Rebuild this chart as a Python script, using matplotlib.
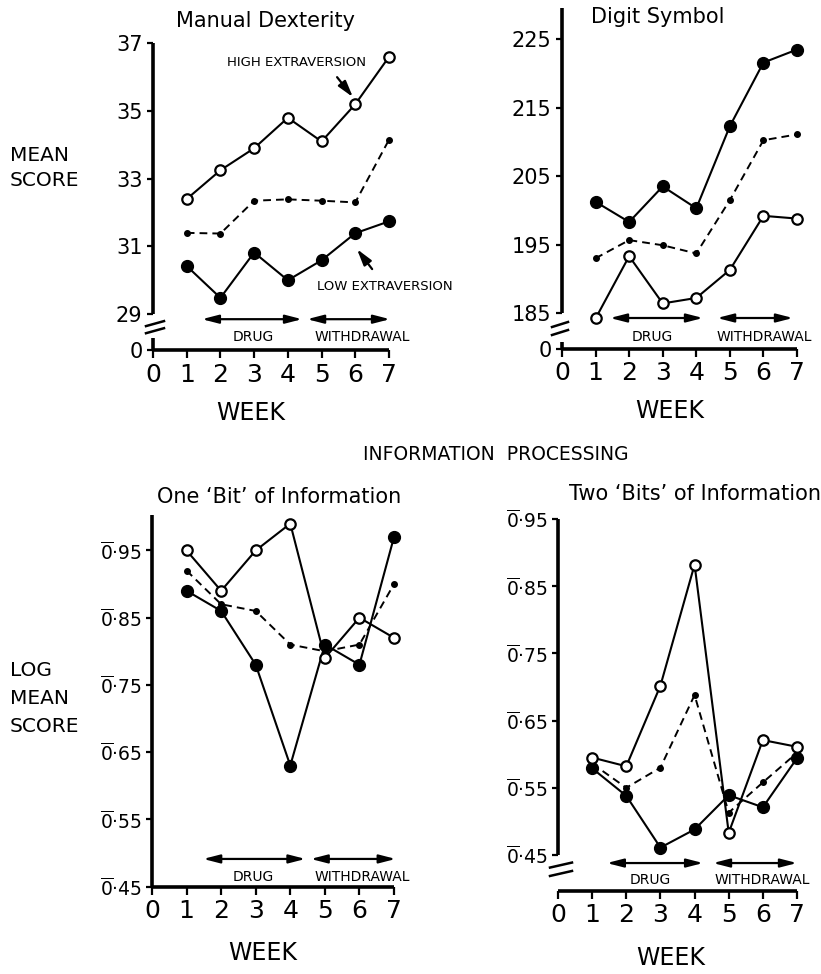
import matplotlib
matplotlib.use('Agg')
import matplotlib.pyplot as plt

# Weekly means for the two extraversion groups and the overall mean
weeks = [1, 2, 3, 4, 5, 6, 7]

md_high = [32.4, 33.25, 33.9, 34.8, 34.1, 35.2, 36.6]
md_mean = [31.4, 31.38, 32.35, 32.39, 32.35, 32.3, 34.15]
md_low = [30.42, 29.48, 30.82, 30.0, 30.59, 31.39, 31.74]

ds_high = [184.2, 193.3, 186.4, 187.2, 191.3, 199.2, 198.8]
ds_mean = [193.0, 195.65, 194.9, 193.7, 201.5, 210.25, 211.1]
ds_low = [201.25, 198.3, 203.5, 200.3, 212.3, 221.6, 223.5]

ob_high = [0.95, 0.89, 0.95, 0.99, 0.79, 0.85, 0.82]
ob_mean = [0.92, 0.87, 0.86, 0.81, 0.80, 0.81, 0.90]
ob_low = [0.89, 0.86, 0.78, 0.63, 0.81, 0.78, 0.97]

tb_high = [0.595, 0.582, 0.702, 0.882, 0.483, 0.621, 0.611]
tb_mean = [0.586, 0.55, 0.58, 0.688, 0.513, 0.558, 0.602]
tb_low = [0.579, 0.538, 0.461, 0.488, 0.539, 0.521, 0.594]

md_ticks = [29, 31, 33, 35, 37]
ds_ticks = [185, 195, 205, 215, 225]
log_ticks = [0.45, 0.55, 0.65, 0.75, 0.85, 0.95]
week_ticks = [0, 1, 2, 3, 4, 5, 6, 7]

plt.rcParams['font.family'] = ['DejaVu Sans']
plt.rcParams['mathtext.fontset'] = 'dejavusans'

W, H = 821, 974
fig = plt.figure(figsize=(W / 100, H / 100), dpi=100)
fig.patch.set_facecolor('white')


def add_axes_px(left, right, top, bottom):
    return fig.add_axes([left / W, 1 - bottom / H, (right - left) / W, (bottom - top) / H])


def log_label(v):
    # bar notation for the log characteristic
    return r'$\overline{0}$' + '\u00b7' + f'{v:.2f}'[2:]


def style_axes(ax, ylim, ticks, labels, spine_low, ysize=15):
    ax.set_xlim(0, 7)
    ax.set_ylim(*ylim)
    ax.patch.set_alpha(0)
    for side in ('top', 'right'):
        ax.spines[side].set_visible(False)
    for side in ('left', 'bottom'):
        ax.spines[side].set_linewidth(2.6)
        ax.spines[side].set_capstyle('butt')
    ax.spines['left'].set_bounds(spine_low, ylim[1])
    ax.set_xticks(week_ticks)
    ax.set_xticklabels([str(w) for w in week_ticks], fontsize=18)
    ax.set_yticks(ticks)
    ax.set_yticklabels(labels, fontsize=ysize)
    ax.tick_params(axis='x', length=6, width=1.6, pad=3)
    ax.tick_params(axis='y', length=4.5, width=1.6, pad=3)


def plot_groups(ax, high, mean, low):
    ax.plot(weeks, mean, color='k', lw=1.4, dashes=(4, 2.6), marker='o', ms=4,
            clip_on=False, zorder=2)
    ax.plot(weeks, low, color='k', lw=1.5, marker='o', ms=8.5, mfc='k',
            clip_on=False, zorder=3)
    ax.plot(weeks, high, color='k', lw=1.5, marker='o', ms=7.5, mfc='white',
            mec='k', mew=1.6, clip_on=False, zorder=4)


def draw_break(ax, centres, x_off):
    # two slanted strokes across the broken y axis
    x0, _ = ax.transData.transform((0, ax.get_ylim()[0]))
    inv = ax.transAxes.inverted()
    for yc in centres:
        _, y0 = ax.transData.transform((0, yc))
        p0 = inv.transform((x0 + x_off[0], y0 - 2.5))
        p1 = inv.transform((x0 + x_off[1], y0 + 2.5))
        ax.plot([p0[0], p1[0]], [p0[1], p1[1]], color='k', lw=1.8,
                transform=ax.transAxes, clip_on=False)


def phase_arrows(ax, y_arrow, y_text, drug, withdrawal, x_drug, x_with):
    style = dict(arrowstyle='<|-|>,head_length=0.7,head_width=0.18',
                 color='k', lw=1.6, shrinkA=0, shrinkB=0, mutation_scale=14)
    ax.annotate('', xy=(drug[1], y_arrow), xytext=(drug[0], y_arrow),
                arrowprops=style, annotation_clip=False)
    ax.annotate('', xy=(withdrawal[1], y_arrow), xytext=(withdrawal[0], y_arrow),
                arrowprops=style, annotation_clip=False)
    ax.text(x_drug, y_text, 'DRUG', ha='center', va='center', fontsize=10)
    ax.text(x_with, y_text, 'WITHDRAWAL', ha='center', va='center', fontsize=10)


def week_label(ax, x, offset):
    ax.annotate('WEEK', xy=(x, 0), xycoords=ax.get_xaxis_transform(),
                xytext=(0, offset), textcoords='offset points',
                ha='center', va='center', fontsize=17)


# Manual Dexterity
ax1 = add_axes_px(153, 389, 43.3, 350)
md_zero = 27.94
style_axes(ax1, (md_zero, 37), [md_zero] + md_ticks,
           ['0'] + [str(t) for t in md_ticks], 29)
ax1.plot([0, 0], [md_zero, 28.3], color='k', lw=2.6, solid_capstyle='butt', clip_on=False)
draw_break(ax1, [28.72, 28.51], (-7, 11))
plot_groups(ax1, md_high, md_mean, md_low)
phase_arrows(ax1, 28.85, 28.32, (1.45, 4.42), (4.57, 7.03), 2.97, 6.21)
week_label(ax1, 2.9, -45)
ax1.text(3.35, 37.66, 'Manual Dexterity', ha='center', va='center', fontsize=15)
arrow_style = dict(arrowstyle='-|>,head_length=0.7,head_width=0.2', color='k', lw=1.6,
                   shrinkA=0, shrinkB=0, mutation_scale=14)
ax1.annotate('', xy=(5.93, 35.41), xytext=(5.46, 36.0), arrowprops=arrow_style)
ax1.text(4.27, 36.42, 'HIGH EXTRAVERSION', ha='center', va='center', fontsize=9.5)
ax1.annotate('', xy=(6.05, 30.92), xytext=(6.5, 30.33), arrowprops=arrow_style)
ax1.text(6.88, 29.83, 'LOW EXTRAVERSION', ha='center', va='center', fontsize=9.5)

# Digit Symbol
ax2 = add_axes_px(562, 797, 8.3, 349)
ds_zero = 179.74
style_axes(ax2, (ds_zero, 229.53), [ds_zero] + ds_ticks,
           ['0'] + [str(t) for t in ds_ticks], 185)
ax2.plot([0, 0], [ds_zero, 180.76], color='k', lw=2.6, solid_capstyle='butt', clip_on=False)
draw_break(ax2, [183.32, 182.15], (-10, 6))
plot_groups(ax2, ds_high, ds_mean, ds_low)
phase_arrows(ax2, 184.27, 181.54, (1.43, 4.2), (4.62, 6.88), 2.7, 6.02)
week_label(ax2, 3.2, -45)
ax2.text(2.86, 228.3, 'Digit Symbol', ha='center', va='center', fontsize=15)

# One 'Bit' of Information
ax3 = add_axes_px(152, 394, 515, 886.5)
style_axes(ax3, (0.45, 1.0028), log_ticks, [log_label(t) for t in log_ticks], 0.45, 13.5)
plot_groups(ax3, ob_high, ob_mean, ob_low)
phase_arrows(ax3, 0.491, 0.4641, (1.48, 4.44), (4.59, 7.05), 2.94, 6.07)
week_label(ax3, 3.2, -48)
ax3.text(3.67, 1.03, 'One \u2018Bit\u2019 of Information', ha='center', va='center', fontsize=15)

# Two 'Bits' of Information
ax4 = add_axes_px(558, 797, 519, 891)
tb_zero = 0.3964
style_axes(ax4, (tb_zero, 0.95), log_ticks, [log_label(t) for t in log_ticks], 0.45, 13.5)
draw_break(ax4, [0.435, 0.4225], (-8, 14))
plot_groups(ax4, tb_high, tb_mean, tb_low)
phase_arrows(ax4, 0.438, 0.4128, (1.43, 4.25), (4.54, 7.0), 2.69, 5.99)
week_label(ax4, 3.3, -48)
ax4.text(4.02, 0.987, 'Two \u2018Bits\u2019 of Information', ha='center', va='center', fontsize=15)

# Shared labels
fig.text(10 / W, 1 - 168 / H, 'MEAN\nSCORE', ha='left', va='center', fontsize=14.5,
         linespacing=1.4)
fig.text(10 / W, 1 - 698 / H, 'LOG\nMEAN\nSCORE', ha='left', va='center', fontsize=14.5,
         linespacing=1.6)
fig.text(496 / W, 1 - 454 / H, 'INFORMATION  PROCESSING', ha='center', va='center',
         fontsize=13.5)

fig.savefig('out.png', dpi=100, facecolor='white')
